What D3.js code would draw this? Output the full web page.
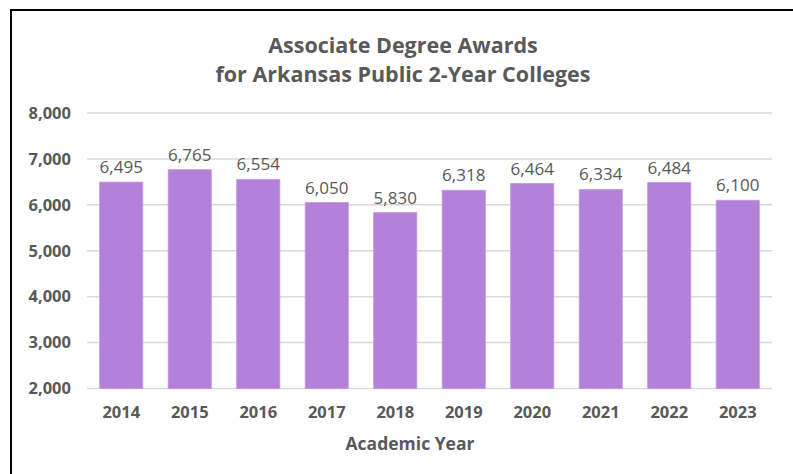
<!DOCTYPE html>
<html>
<head>
<meta charset="utf-8">
<script src="https://cdn.jsdelivr.net/npm/d3@7"></script>
<style>
    body { margin: 0; background: #ffffff; }
    svg { display: block; font-family: "Open Sans", sans-serif; }
</style>
</head>
<body>
<div id="chart"></div>
<script>
const years = ['2014', '2015', '2016', '2017', '2018', '2019', '2020', '2021', '2022', '2023'];
const awards = [6495, 6765, 6554, 6050, 5830, 6318, 6464, 6334, 6484, 6100];
const yTicks = [2000, 3000, 4000, 5000, 6000, 7000, 8000];
const titleLines = ['Associate Degree Awards', 'for Arkansas Public 2-Year Colleges'];
const xTitle = 'Academic Year';

const width = 793, height = 474;
const margin = { top: 113, right: 21, bottom: 85.5, left: 87 };
const textColor = '#595959';

const svg = d3.select('#chart')
    .append('svg')
    .attr('width', width)
    .attr('height', height);

// chart frame (only left and top edges are visible in the picture)
svg.append('rect')
    .attr('x', 11)
    .attr('y', 10)
    .attr('width', 900)
    .attr('height', 600)
    .style('fill', 'none')
    .style('stroke', '#000000')
    .style('stroke-width', 2);

const x = d3.scaleBand()
    .domain(years)
    .range([margin.left, width - margin.right])
    .paddingInner(0.37)
    .paddingOuter(0.185);

const y = d3.scaleLinear()
    .domain([2000, 8000])
    .range([height - margin.bottom, margin.top]);

// gridlines
svg.append('g')
    .selectAll('line')
    .data(yTicks)
    .join('line')
    .attr('x1', margin.left)
    .attr('x2', width - margin.right)
    .attr('y1', d => y(d))
    .attr('y2', d => y(d))
    .style('stroke', '#d9d9d9')
    .style('stroke-width', 1.5);

// y axis labels
const yAxis = svg.append('g')
    .attr('transform', `translate(${margin.left - 16},0)`)
    .call(d3.axisLeft(y).tickValues(yTicks).tickFormat(d3.format(',')).tickSize(0).tickPadding(0));
yAxis.select('.domain').remove();
yAxis.selectAll('text')
    .style('font-family', '"Open Sans", sans-serif')
    .style('font-size', '16.5px')
    .style('font-weight', 'bold')
    .style('fill', textColor);

// bars
svg.append('g')
    .selectAll('rect')
    .data(years)
    .join('rect')
    .attr('x', d => x(d))
    .attr('y', (d, i) => y(awards[i]))
    .attr('width', x.bandwidth())
    .attr('height', (d, i) => y(2000) - y(awards[i]))
    .style('fill', '#b381d9')
    .style('stroke', '#c49ae3')
    .style('stroke-width', 0.8);

// value labels
svg.append('g')
    .selectAll('text')
    .data(years)
    .join('text')
    .attr('x', d => x(d) + x.bandwidth() / 2)
    .attr('y', (d, i) => y(awards[i]) - 9)
    .attr('text-anchor', 'middle')
    .style('font-size', '17px')
    .style('fill', textColor)
    .text((d, i) => d3.format(',')(awards[i]));

// x axis labels
const xAxis = svg.append('g')
    .attr('transform', `translate(0,${height - margin.bottom})`)
    .call(d3.axisBottom(x).tickSize(0).tickPadding(18));
xAxis.select('.domain').remove();
xAxis.selectAll('text')
    .style('font-family', '"Open Sans", sans-serif')
    .style('font-size', '16.5px')
    .style('font-weight', 'bold')
    .style('fill', textColor);

// axis title
svg.append('text')
    .attr('x', 410)
    .attr('y', 450)
    .attr('text-anchor', 'middle')
    .style('font-size', '17.5px')
    .style('font-weight', 'bold')
    .style('fill', textColor)
    .text(xTitle);

// chart title
svg.append('g')
    .selectAll('text')
    .data(titleLines)
    .join('text')
    .attr('x', 403)
    .attr('y', (d, i) => 53 + i * 29)
    .attr('text-anchor', 'middle')
    .style('font-size', '21.5px')
    .style('font-weight', 'bold')
    .style('fill', textColor)
    .text(d => d);
</script>
</body>
</html>
